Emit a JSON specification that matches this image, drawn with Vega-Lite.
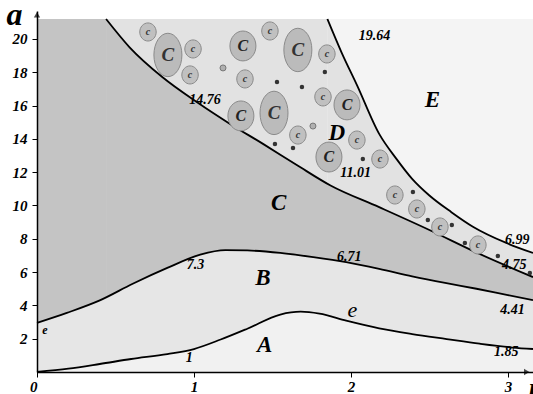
{
  "$schema": "https://vega.github.io/schema/vega-lite/v6.json",
  "width": 496,
  "height": 361,
  "autosize": {"type": "none"},
  "padding": {"left": 37, "top": 11, "right": 0, "bottom": 22},
  "background": "white",
  "config": {"view": {"stroke": null}, "font": "Liberation Serif"},
  "resolve": {"scale": {"fill": "independent"}},
  "datasets": {
    "blocks": [
      {"region": "E", "x": 0, "x2": 3.16, "y": 0, "y2": 21.2},
      {"region": "D", "x": 0, "x2": 1.85, "y": 0, "y2": 21.2},
      {"region": "C", "x": 0, "x2": 0.44, "y": 0, "y2": 21.2}
    ],
    "curves": [
      {"curve": "AB", "x": 0, "y": 0},
      {"curve": "AB", "x": 0.2, "y": 0.2},
      {"curve": "AB", "x": 0.4, "y": 0.48},
      {"curve": "AB", "x": 0.6, "y": 0.78},
      {"curve": "AB", "x": 0.83, "y": 1.08},
      {"curve": "AB", "x": 1.0, "y": 1.38},
      {"curve": "AB", "x": 1.17, "y": 1.95},
      {"curve": "AB", "x": 1.34, "y": 2.6},
      {"curve": "AB", "x": 1.55, "y": 3.45},
      {"curve": "AB", "x": 1.68, "y": 3.62},
      {"curve": "AB", "x": 1.8, "y": 3.5},
      {"curve": "AB", "x": 1.97, "y": 3.08},
      {"curve": "AB", "x": 2.18, "y": 2.62},
      {"curve": "AB", "x": 2.39, "y": 2.28},
      {"curve": "AB", "x": 2.61, "y": 1.98},
      {"curve": "AB", "x": 2.82, "y": 1.7},
      {"curve": "AB", "x": 3.03, "y": 1.47},
      {"curve": "AB", "x": 3.16, "y": 1.38},
      {"curve": "BC", "x": 0, "y": 2.95},
      {"curve": "BC", "x": 0.19, "y": 3.55},
      {"curve": "BC", "x": 0.4, "y": 4.3},
      {"curve": "BC", "x": 0.61, "y": 5.3},
      {"curve": "BC", "x": 0.83, "y": 6.25},
      {"curve": "BC", "x": 1.04, "y": 7.05},
      {"curve": "BC", "x": 1.2, "y": 7.32},
      {"curve": "BC", "x": 1.34, "y": 7.3},
      {"curve": "BC", "x": 1.55, "y": 7.15},
      {"curve": "BC", "x": 1.76, "y": 6.9},
      {"curve": "BC", "x": 1.97, "y": 6.6},
      {"curve": "BC", "x": 2.18, "y": 6.2},
      {"curve": "BC", "x": 2.39, "y": 5.75},
      {"curve": "BC", "x": 2.6, "y": 5.35},
      {"curve": "BC", "x": 2.8, "y": 5.0},
      {"curve": "BC", "x": 3.0, "y": 4.62},
      {"curve": "BC", "x": 3.16, "y": 4.32},
      {"curve": "CD", "x": 0.44, "y": 21.2},
      {"curve": "CD", "x": 0.59, "y": 19.5},
      {"curve": "CD", "x": 0.8, "y": 17.7},
      {"curve": "CD", "x": 1.02, "y": 16.2},
      {"curve": "CD", "x": 1.23, "y": 14.9},
      {"curve": "CD", "x": 1.44, "y": 13.7},
      {"curve": "CD", "x": 1.66, "y": 12.4},
      {"curve": "CD", "x": 1.87, "y": 11.2},
      {"curve": "CD", "x": 2.18, "y": 9.9},
      {"curve": "CD", "x": 2.5, "y": 8.53},
      {"curve": "CD", "x": 2.82, "y": 7.09},
      {"curve": "CD", "x": 3.16, "y": 5.7},
      {"curve": "DE", "x": 1.85, "y": 21.2},
      {"curve": "DE", "x": 1.94, "y": 19.2},
      {"curve": "DE", "x": 2.04, "y": 17.2},
      {"curve": "DE", "x": 2.18, "y": 14.3},
      {"curve": "DE", "x": 2.29, "y": 12.8},
      {"curve": "DE", "x": 2.39, "y": 11.6},
      {"curve": "DE", "x": 2.5, "y": 10.6},
      {"curve": "DE", "x": 2.64, "y": 9.6},
      {"curve": "DE", "x": 2.78, "y": 8.71},
      {"curve": "DE", "x": 2.99, "y": 7.75},
      {"curve": "DE", "x": 3.16, "y": 7.15}
    ],
    "bubbles": [
      {"kind": "small", "label": "c", "x": 0.707, "y": 20.42},
      {"kind": "big", "label": "C", "x": 0.834, "y": 19.04},
      {"kind": "small", "label": "c", "x": 0.994, "y": 19.4},
      {"kind": "small", "label": "c", "x": 0.975, "y": 17.84},
      {"kind": "speck", "label": "", "x": 1.185, "y": 18.26},
      {"kind": "mid", "label": "C", "x": 1.312, "y": 19.58},
      {"kind": "small", "label": "c", "x": 1.484, "y": 20.48},
      {"kind": "big", "label": "C", "x": 1.662, "y": 19.34},
      {"kind": "small", "label": "c", "x": 1.325, "y": 17.6},
      {"kind": "dot", "label": "", "x": 1.529, "y": 17.42},
      {"kind": "dot", "label": "", "x": 1.688, "y": 17.12},
      {"kind": "dot", "label": "", "x": 1.834, "y": 18.02},
      {"kind": "small", "label": "c", "x": 1.847, "y": 19.1},
      {"kind": "small", "label": "c", "x": 1.822, "y": 16.52},
      {"kind": "mid", "label": "C", "x": 1.975, "y": 16.04},
      {"kind": "mid", "label": "C", "x": 1.299, "y": 15.38},
      {"kind": "big", "label": "C", "x": 1.51, "y": 15.56},
      {"kind": "small", "label": "c", "x": 1.662, "y": 14.23},
      {"kind": "speck", "label": "", "x": 1.758, "y": 14.77},
      {"kind": "dot", "label": "", "x": 1.516, "y": 13.69},
      {"kind": "dot", "label": "", "x": 1.631, "y": 13.45},
      {"kind": "small", "label": "c", "x": 2.038, "y": 13.93},
      {"kind": "mid", "label": "C", "x": 1.86, "y": 12.91},
      {"kind": "dot", "label": "", "x": 2.076, "y": 12.79},
      {"kind": "small", "label": "c", "x": 2.185, "y": 12.79},
      {"kind": "small", "label": "c", "x": 2.28, "y": 10.63},
      {"kind": "dot", "label": "", "x": 2.395, "y": 10.81},
      {"kind": "small", "label": "c", "x": 2.42, "y": 9.79},
      {"kind": "dot", "label": "", "x": 2.49, "y": 9.13},
      {"kind": "small", "label": "c", "x": 2.567, "y": 8.71},
      {"kind": "dot", "label": "", "x": 2.643, "y": 8.83},
      {"kind": "dot", "label": "", "x": 2.726, "y": 7.75},
      {"kind": "small", "label": "c", "x": 2.809, "y": 7.63},
      {"kind": "dot", "label": "", "x": 2.936, "y": 6.97},
      {"kind": "dot", "label": "", "x": 3.14, "y": 5.95}
    ],
    "notes": [
      {"text": "A", "x": 1.45, "y": 1.62, "role": "region"},
      {"text": "B", "x": 1.44, "y": 5.65, "role": "region"},
      {"text": "C", "x": 1.54, "y": 10.15, "role": "region"},
      {"text": "D", "x": 1.91, "y": 14.35, "role": "region"},
      {"text": "E", "x": 2.52, "y": 16.34, "role": "region"},
      {"text": "e", "x": 2.01, "y": 3.75, "role": "curve"},
      {"text": "e", "x": 0.05, "y": 2.55, "role": "small"},
      {"text": "14.76", "x": 1.07, "y": 16.34, "role": "value"},
      {"text": "19.64", "x": 2.15, "y": 20.18, "role": "value"},
      {"text": "11.01", "x": 2.03, "y": 11.95, "role": "value"},
      {"text": "7.3", "x": 1.01, "y": 6.45, "role": "value"},
      {"text": "6.71", "x": 1.99, "y": 6.9, "role": "value"},
      {"text": "1", "x": 0.97, "y": 0.85, "role": "value"},
      {"text": "4.41", "x": 3.03, "y": 3.72, "role": "value"},
      {"text": "1.85", "x": 2.99, "y": 1.2, "role": "value"},
      {"text": "6.99", "x": 3.06, "y": 7.93, "role": "value"},
      {"text": "4.75", "x": 3.04, "y": 6.43, "role": "value"}
    ],
    "arrows": [
      {"dir": "up", "x": 0, "y": 21.45},
      {"dir": "right", "x": 3.12, "y": 0}
    ]
  },
  "layer": [
    {
      "data": {"name": "blocks"},
      "mark": {"type": "rect"},
      "encoding": {
        "x": {"field": "x", "type": "quantitative", "scale": {"domain": [0, 3.16], "nice": false, "zero": false},
          "axis": {"values": [0, 1, 2, 3], "format": "d", "grid": false, "domainColor": "black", "domainWidth": 1.5, "tickColor": "black", "tickSize": 5, "tickWidth": 1,
            "labelFont": "Liberation Serif", "labelFontStyle": "italic", "labelFontWeight": "bold", "labelFontSize": 15, "labelColor": "black", "labelPadding": 2,
            "labelAlign": {"condition": {"test": "datum.value == 0", "value": "right"}, "value": "center"},
            "title": "l", "titleFont": "Liberation Serif", "titleFontStyle": "italic", "titleFontWeight": "bold", "titleFontSize": 28, "titleColor": "black",
            "titleX": 494, "titleY": 30, "titleAlign": "center", "titleBaseline": "alphabetic", "zindex": 1}},
        "x2": {"field": "x2"},
        "y": {"field": "y", "type": "quantitative", "scale": {"domain": [0, 21.68], "nice": false, "zero": false},
          "axis": {"values": [2, 4, 6, 8, 10, 12, 14, 16, 18, 20], "format": "d", "grid": false, "domainColor": "black", "domainWidth": 1.5, "tickColor": "black", "tickSize": 5, "tickWidth": 1,
            "labelFont": "Liberation Serif", "labelFontStyle": "italic", "labelFontWeight": "bold", "labelFontSize": 15, "labelColor": "black", "labelPadding": 5,
            "title": "a", "titleFont": "Liberation Serif", "titleFontStyle": "italic", "titleFontWeight": "bold", "titleFontSize": 32, "titleColor": "black",
            "titleAngle": 0, "titleX": -23, "titleY": 13, "titleAlign": "center", "titleBaseline": "alphabetic", "zindex": 1}},
        "y2": {"field": "y2"},
        "fill": {"field": "region", "type": "nominal", "scale": {"domain": ["E", "D", "C"], "range": ["#f4f4f4", "#e2e2e2", "#c4c4c4"]}, "legend": null}
      }
    },
    {
      "data": {"name": "curves"},
      "transform": [{"filter": "datum.curve == 'DE'"}],
      "mark": {"type": "area", "interpolate": "monotone", "fill": "#e2e2e2"},
      "encoding": {"x": {"field": "x", "type": "quantitative"}, "y": {"field": "y", "type": "quantitative", "stack": null}}
    },
    {
      "data": {"name": "curves"},
      "transform": [{"filter": "datum.curve == 'CD'"}],
      "mark": {"type": "area", "interpolate": "monotone", "fill": "#c4c4c4"},
      "encoding": {"x": {"field": "x", "type": "quantitative"}, "y": {"field": "y", "type": "quantitative", "stack": null}}
    },
    {
      "data": {"name": "curves"},
      "transform": [{"filter": "datum.curve == 'BC'"}],
      "mark": {"type": "area", "interpolate": "monotone", "fill": "#e6e6e6"},
      "encoding": {"x": {"field": "x", "type": "quantitative"}, "y": {"field": "y", "type": "quantitative", "stack": null}}
    },
    {
      "data": {"name": "curves"},
      "transform": [{"filter": "datum.curve == 'AB'"}],
      "mark": {"type": "area", "interpolate": "monotone", "fill": "#f1f1f1"},
      "encoding": {"x": {"field": "x", "type": "quantitative"}, "y": {"field": "y", "type": "quantitative", "stack": null}}
    },
    {
      "data": {"name": "curves"},
      "mark": {"type": "line", "interpolate": "monotone", "stroke": "black", "strokeWidth": 1.8},
      "encoding": {"x": {"field": "x", "type": "quantitative"}, "y": {"field": "y", "type": "quantitative"}, "detail": {"field": "curve", "type": "nominal"}}
    },
    {
      "data": {"name": "bubbles"},
      "transform": [{"filter": "datum.kind == 'big'"}],
      "mark": {"type": "point", "filled": true, "fill": "#bbbbbb", "stroke": "#8a8a8a", "strokeWidth": 1, "opacity": 1, "size": 784,
        "shape": "M0,-1.55A1,1.55 0 1,1 0,1.55A1,1.55 0 1,1 0,-1.55Z"},
      "encoding": {"x": {"field": "x", "type": "quantitative"}, "y": {"field": "y", "type": "quantitative"}}
    },
    {
      "data": {"name": "bubbles"},
      "transform": [{"filter": "datum.kind == 'mid'"}],
      "mark": {"type": "point", "filled": true, "fill": "#bbbbbb", "stroke": "#8a8a8a", "strokeWidth": 1, "opacity": 1, "size": 676,
        "shape": "M0,-1.15A1,1.15 0 1,1 0,1.15A1,1.15 0 1,1 0,-1.15Z"},
      "encoding": {"x": {"field": "x", "type": "quantitative"}, "y": {"field": "y", "type": "quantitative"}}
    },
    {
      "data": {"name": "bubbles"},
      "transform": [{"filter": "datum.kind == 'small'"}],
      "mark": {"type": "point", "filled": true, "fill": "#c0c0c0", "stroke": "#8a8a8a", "strokeWidth": 1, "opacity": 1, "size": 270,
        "shape": "M0,-1.1A1,1.1 0 1,1 0,1.1A1,1.1 0 1,1 0,-1.1Z"},
      "encoding": {"x": {"field": "x", "type": "quantitative"}, "y": {"field": "y", "type": "quantitative"}}
    },
    {
      "data": {"name": "bubbles"},
      "transform": [{"filter": "datum.kind == 'speck'"}],
      "mark": {"type": "point", "filled": true, "fill": "#b0b0b0", "stroke": "#777777", "strokeWidth": 1, "opacity": 1, "size": 36, "shape": "circle"},
      "encoding": {"x": {"field": "x", "type": "quantitative"}, "y": {"field": "y", "type": "quantitative"}}
    },
    {
      "data": {"name": "bubbles"},
      "transform": [{"filter": "datum.kind == 'dot'"}],
      "mark": {"type": "point", "filled": true, "fill": "#333333", "opacity": 1, "size": 20, "shape": "circle"},
      "encoding": {"x": {"field": "x", "type": "quantitative"}, "y": {"field": "y", "type": "quantitative"}}
    },
    {
      "data": {"name": "bubbles"},
      "transform": [{"filter": "datum.kind == 'big'"}],
      "mark": {"type": "text", "font": "Liberation Serif", "fontStyle": "italic", "fontWeight": "bold", "fill": "#333333", "baseline": "middle", "align": "center", "fontSize": 19},
      "encoding": {"x": {"field": "x", "type": "quantitative"}, "y": {"field": "y", "type": "quantitative"}, "text": {"field": "label", "type": "nominal"}}
    },
    {
      "data": {"name": "bubbles"},
      "transform": [{"filter": "datum.kind == 'mid'"}],
      "mark": {"type": "text", "font": "Liberation Serif", "fontStyle": "italic", "fontWeight": "bold", "fill": "#222222", "baseline": "middle", "align": "center", "fontSize": 16},
      "encoding": {"x": {"field": "x", "type": "quantitative"}, "y": {"field": "y", "type": "quantitative"}, "text": {"field": "label", "type": "nominal"}}
    },
    {
      "data": {"name": "bubbles"},
      "transform": [{"filter": "datum.kind == 'small'"}],
      "mark": {"type": "text", "font": "Liberation Serif", "fontStyle": "italic", "fontWeight": "bold", "fill": "#333333", "baseline": "middle", "align": "center", "fontSize": 10},
      "encoding": {"x": {"field": "x", "type": "quantitative"}, "y": {"field": "y", "type": "quantitative"}, "text": {"field": "label", "type": "nominal"}}
    },
    {
      "data": {"name": "notes"},
      "transform": [{"filter": "datum.role == 'region'"}],
      "mark": {"type": "text", "font": "Liberation Serif", "fontStyle": "italic", "fontWeight": "bold", "fill": "black", "baseline": "middle", "align": "center", "fontSize": 23},
      "encoding": {"x": {"field": "x", "type": "quantitative"}, "y": {"field": "y", "type": "quantitative"}, "text": {"field": "text", "type": "nominal"}}
    },
    {
      "data": {"name": "notes"},
      "transform": [{"filter": "datum.role == 'curve'"}],
      "mark": {"type": "text", "font": "Liberation Serif", "fontStyle": "italic", "fill": "black", "baseline": "middle", "align": "center", "fontSize": 22},
      "encoding": {"x": {"field": "x", "type": "quantitative"}, "y": {"field": "y", "type": "quantitative"}, "text": {"field": "text", "type": "nominal"}}
    },
    {
      "data": {"name": "notes"},
      "transform": [{"filter": "datum.role == 'value'"}],
      "mark": {"type": "text", "font": "Liberation Serif", "fontStyle": "italic", "fontWeight": "bold", "fill": "black", "baseline": "middle", "align": "center", "fontSize": 14},
      "encoding": {"x": {"field": "x", "type": "quantitative"}, "y": {"field": "y", "type": "quantitative"}, "text": {"field": "text", "type": "nominal"}}
    },
    {
      "data": {"name": "notes"},
      "transform": [{"filter": "datum.role == 'small'"}],
      "mark": {"type": "text", "font": "Liberation Serif", "fontStyle": "italic", "fontWeight": "bold", "fill": "black", "baseline": "middle", "align": "center", "fontSize": 12},
      "encoding": {"x": {"field": "x", "type": "quantitative"}, "y": {"field": "y", "type": "quantitative"}, "text": {"field": "text", "type": "nominal"}}
    },
    {
      "data": {"name": "arrows"},
      "transform": [{"filter": "datum.dir == 'up'"}],
      "mark": {"type": "point", "filled": true, "fill": "black", "size": 40, "shape": "triangle-up"},
      "encoding": {"x": {"field": "x", "type": "quantitative"}, "y": {"field": "y", "type": "quantitative"}}
    },
    {
      "data": {"name": "arrows"},
      "transform": [{"filter": "datum.dir == 'right'"}],
      "mark": {"type": "point", "filled": true, "fill": "black", "size": 40, "shape": "triangle-right"},
      "encoding": {"x": {"field": "x", "type": "quantitative"}, "y": {"field": "y", "type": "quantitative"}}
    }
  ]
}
